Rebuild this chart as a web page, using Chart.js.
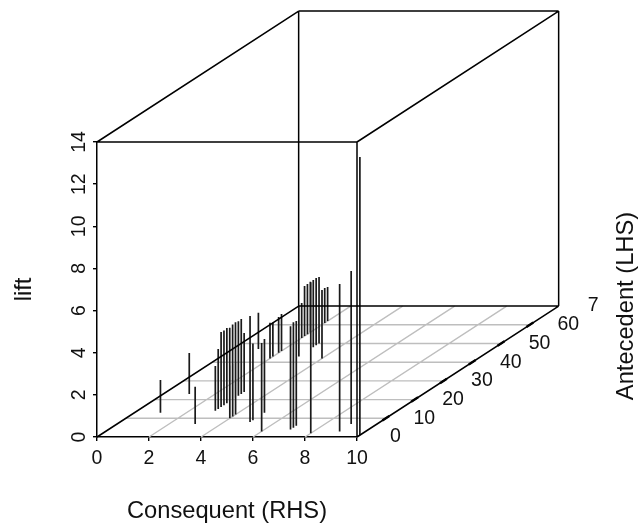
<!DOCTYPE html>
<html>
<head>
<meta charset="utf-8">
<title>lift by rule</title>
<script src="https://cdn.jsdelivr.net/npm/chart.js@4/dist/chart.umd.min.js"></script>
<style>
  html, body { margin: 0; padding: 0; background: #fff; }
  canvas { display: block; }
</style>
</head>
<body>
<canvas id="chart" width="638" height="527"></canvas>
<script>
// ===========================
// DATA
// ===========================
const consequent = [1, 1, 1, 3,
  3, 3, 3, 3, 3, 3, 3, 3, 3, 3, 3,
  4, 4, 4, 4,
  5, 5, 5, 6,
  2, 2, 2, 2,
  7, 7, 7, 3,
  2, 2, 2, 2, 8,
  3, 3, 3, 2, 2, 9, 9, 10];
const antecedent = [13, 23, 47, 7,
  14, 15, 16, 17, 18, 19, 20, 21, 22, 23, 24,
  10, 11, 12, 42,
  8, 9, 13, 3,
  42, 43, 45, 46,
  4, 5, 6, 43,
  53, 54, 55, 56, 2,
  48, 49, 50, 61, 62, 3, 7, 1];
const lift = [1.55, 1.95, 1.72, 1.76,
  2.13, 2.85, 3.56, 3.55, 3.57, 3.5, 3.56, 3.58, 3.54, 3.56, 2.8,
  2.5, 2.5, 2.5, 3.25,
  5.03, 3.64, 3.5, 4.2,
  1.69, 1.6, 1.7, 1.76,
  4.9, 5.0, 4.97, 2.4,
  1.66, 2.37, 2.38, 2.4, 7.17,
  3.19, 3.2, 3.15, 1.66, 1.62, 7.0, 7.26, 13.2];

const xTicks = [0, 2, 4, 6, 8, 10];
const depthTicks = [0, 10, 20, 30, 40, 50, 60, 70];
const depthLabels = ["0", "10", "20", "30", "40", "50", "60", "7"];
const liftMax = 14;
const xMax = 10;
const depthMax = 70;

// one antecedent unit moves this much along x and lift
const perDepthX = 0.1108;
const perDepthZ = 0.08875;

const FONT = "'Liberation Sans', Arial, sans-serif";
const TICK_SIZE = 19.5;
const TITLE_SIZE = 23.7;

function project(x, depth, z) {
  return { x: x + depth * perDepthX, y: z + depth * perDepthZ };
}

const GAP = { x: null, y: null };

function segs(list) {
  const out = [];
  list.forEach(s => out.push(project(...s[0]), project(...s[1]), GAP));
  return out;
}

// ===========================
// DATASETS
// ===========================
const gridSegs = [];
xTicks.slice(1, -1).forEach(x => gridSegs.push([[x, 0, 0], [x, depthMax, 0]]));
depthTicks.slice(1, -1).forEach(d => gridSegs.push([[0, d, 0], [xMax, d, 0]]));

const boxSegs = [
  [[0, 0, liftMax], [xMax, 0, liftMax]],
  [[xMax, 0, 0], [xMax, 0, liftMax]],
  [[0, 0, 0], [0, depthMax, 0]],
  [[xMax, 0, 0], [xMax, depthMax, 0]],
  [[0, depthMax, 0], [xMax, depthMax, 0]],
  [[0, depthMax, 0], [0, depthMax, liftMax]],
  [[xMax, depthMax, 0], [xMax, depthMax, liftMax]],
  [[0, depthMax, liftMax], [xMax, depthMax, liftMax]],
  [[0, 0, liftMax], [0, depthMax, liftMax]],
  [[xMax, 0, liftMax], [xMax, depthMax, liftMax]]
];

// ticks sit along the axis, as short thicker pieces
const depthTickSegs = depthTicks.slice(1, -1).map(d => [[xMax, d - 1.2, 0], [xMax, d + 1.2, 0]]);

const stems = consequent.map((x, i) => [[x, antecedent[i], 0], [x, antecedent[i], lift[i]]]);

function lineSet(list, color, width, order) {
  return {
    data: segs(list),
    showLine: true,
    borderColor: color,
    borderWidth: width,
    pointRadius: 0,
    clip: false,
    order: order
  };
}

// ===========================
// TEXT AROUND THE BOX
// ===========================
const depthText = {
  id: "depthText",
  afterDraw(chart) {
    const { ctx, scales } = chart;
    ctx.save();
    ctx.fillStyle = "#111";
    ctx.font = TICK_SIZE + "px " + FONT;
    ctx.textBaseline = "middle";
    depthTicks.forEach((d, i) => {
      const p = project(xMax, d, 0);
      const px = scales.x.getPixelForValue(p.x);
      const py = scales.y.getPixelForValue(p.y);
      if (depthLabels[i].length === 1 && i > 0) {
        ctx.textAlign = "left";
        ctx.fillText(depthLabels[i], px + 29, py);
      } else {
        ctx.textAlign = "center";
        ctx.fillText(depthLabels[i], px + 38.5, py);
      }
    });
    ctx.font = TITLE_SIZE + "px " + FONT;
    ctx.translate(626, 306);
    ctx.rotate(-Math.PI / 2);
    ctx.textAlign = "center";
    ctx.fillText("Antecedent (LHS)", 0, 0);
    ctx.restore();
  }
};

// ===========================
// CHART
// ===========================
new Chart(document.getElementById("chart"), {
  type: "scatter",
  data: {
    datasets: [
      lineSet(gridSegs, "#bebebe", 1.4, 4),
      lineSet(stems, "#1a1a1a", 1.7, 3),
      lineSet(boxSegs, "#000", 1.5, 2),
      lineSet(depthTickSegs, "#000", 2.4, 1)
    ]
  },
  plugins: [depthText],
  options: {
    responsive: false,
    animation: false,
    layout: { padding: { top: 142, right: 281, left: 0, bottom: 0 } },
    plugins: { legend: { display: false }, tooltip: { enabled: false } },
    scales: {
      x: {
        type: "linear",
        min: 0,
        max: xMax,
        afterFit(scale) { scale.height = 90; },
        border: { color: "#000", width: 1.5 },
        grid: { drawOnChartArea: false, color: "#000", lineWidth: 1.4, tickLength: 4 },
        ticks: {
          stepSize: 2,
          autoSkip: false,
          maxRotation: 0,
          color: "#111",
          padding: 6,
          font: { family: FONT, size: TICK_SIZE }
        },
        title: {
          display: true,
          text: "Consequent (RHS)",
          color: "#111",
          padding: { top: 0, bottom: 1 },
          font: { family: FONT, size: TITLE_SIZE }
        }
      },
      y: {
        type: "linear",
        min: 0,
        max: liftMax,
        afterFit(scale) { scale.width = 97; },
        border: { color: "#000", width: 1.5 },
        grid: { drawOnChartArea: false, color: "#000", lineWidth: 1.4, tickLength: 4 },
        ticks: {
          stepSize: 2,
          autoSkip: false,
          minRotation: 90,
          maxRotation: 90,
          crossAlign: "center",
          color: "#111",
          padding: 3,
          font: { family: FONT, size: TICK_SIZE }
        },
        title: {
          display: true,
          text: "lift",
          color: "#111",
          padding: { top: 10, bottom: 0 },
          font: { family: FONT, size: TITLE_SIZE }
        }
      }
    }
  }
});
</script>
</body>
</html>
